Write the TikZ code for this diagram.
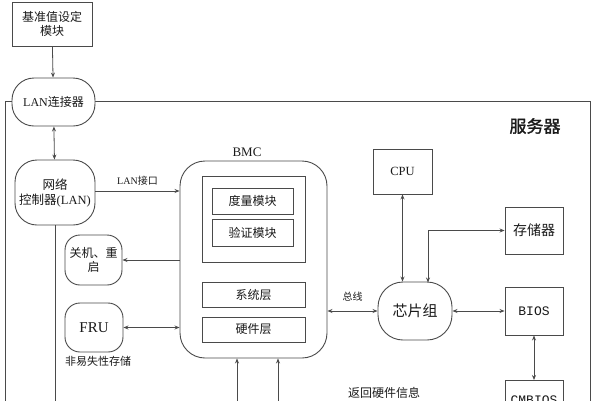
\documentclass[tikz,border=0pt]{standalone}
\usepackage{fontspec}
\setmainfont{Liberation Serif}
\newfontfamily\cjk{Noto Sans CJK SC}
\newfontfamily\cjkbf[FakeBold=1.6]{Noto Sans CJK SC}
\newfontfamily\mono{Liberation Mono}
\usepackage{tikz}
\usetikzlibrary{arrows.meta,positioning,calc}
\definecolor{line}{HTML}{4A4A4A}
\definecolor{ink}{HTML}{1A1A1A}

\begin{document}
\begin{tikzpicture}[
  x=1pt,y=-1pt,
  font=\fontsize{12}{14}\selectfont,
  text=ink,
  box/.style={draw=line,line width=0.9pt,fill=white,inner sep=1pt,align=center},
  pill/.style={box,rounded corners=18pt},
  layer/.style={draw=line,line width=0.9pt,fill=white,minimum width=103pt,minimum height=25pt,inner sep=1pt},
  wire/.style={draw=line,line width=0.8pt},
  >={Stealth[length=5pt,width=4pt]}
]
\useasboundingbox (0,0) rectangle (592,400);
\clip (0,0) rectangle (592,400);
% the server frame
\draw[line,line width=0.9pt] (5,101) rectangle (590,430);
\node[font=\fontsize{17}{17}\selectfont\cjkbf] (srv) at (535,126) {服务器};
% left column
\node[box,minimum width=80pt,minimum height=44pt] (base) at (52,24) {\cjk 基准值设定\\\cjk 模块};
\node[pill,minimum width=83pt,minimum height=48pt,rounded corners=22pt] (lan) at (53.5,102) {LAN{\cjk 连接器}};
\node[pill,minimum width=80pt,minimum height=65pt,rounded corners=22pt,font=\fontsize{12.5}{15}\selectfont] (nic) at (55,192.5) {{\cjk 网络}\\{\cjk 控制器}(LAN)};
\coordinate (nicend) at (53,410);
\node[pill,minimum width=57pt,minimum height=50pt,rounded corners=15pt] (off) at (93.5,260) {\cjk 关机、重\\\cjk 启};
\node[pill,minimum width=58pt,minimum height=49pt,rounded corners=15pt,font=\fontsize{15}{15}\selectfont] (fru) at (94,327.5) {FRU};
\node[font=\fontsize{11}{11}\selectfont\cjk] (nvm) at (98,361) {非易失性存储};
% the BMC
\node[draw=line,line width=0.9pt,rounded corners=25pt,minimum width=147pt,minimum height=197pt] (bmc) at (253.5,259.5) {};
\node[font=\fontsize{13}{13}\selectfont] (bmclbl) at (247,152) {BMC};
\node[layer,minimum height=86pt] (inner) at (253.5,219) {};
\node[layer,minimum width=81pt,minimum height=26pt] (meas) at (252.5,201) {\cjk 度量模块};
\node[layer,minimum width=81pt,minimum height=27pt] (verif) at (252.5,232.5) {\cjk 验证模块};
\node[layer] (sys) at (253.5,294.5) {\cjk 系统层};
\node[layer] (hw) at (253.5,329.5) {\cjk 硬件层};
\coordinate (hwa) at (237,410);
\coordinate (hwb) at (278,410);
% right column
\node[pill,minimum width=74pt,minimum height=58pt,rounded corners=25pt,font=\fontsize{15}{15}\selectfont\cjk] (chip) at (415,311) {芯片组};
\node[box,minimum width=59pt,minimum height=45pt,font=\fontsize{12.5}{13}\selectfont] (cpu) at (402.5,171.5) {CPU};
\node[box,minimum width=58pt,minimum height=47pt,font=\fontsize{14}{14}\selectfont\cjk] (mem) at (534,230.5) {存储器};
\node[box,minimum width=58pt,minimum height=48pt,font=\fontsize{13}{13}\selectfont\mono] (bios) at (534,311) {BIOS};
\node[box,minimum width=58pt,minimum height=48pt,font=\fontsize{13}{13}\selectfont\mono,text depth=0pt,anchor=north] (cmos) at (534,380) {\raisebox{8pt}{CMBIOS}};
\node[font=\fontsize{12}{12}\selectfont\cjk] (back) at (384,393) {返回硬件信息};
% connectors
\draw[wire,->] (base) -- (lan);
\draw[wire,<->] (lan) -- (nic);
\draw[wire] (nic) -- (nic |- nicend);
\draw[wire,->] (nic.east |- 0,191) -- (bmc.west |- 0,191)
  node[midway,above=2pt,font=\fontsize{10}{10}\selectfont] (lanport) {LAN{\cjk 接口}};
\draw[wire,->] (bmc.west |- off) -- (off);
\draw[wire,<->] (bmc.west |- fru) -- (fru);
\draw[wire,<->] (bmc.east |- chip) -- (chip)
  node[midway,above=6pt,font=\fontsize{10}{10}\selectfont\cjk] (bus) {总线};
\draw[wire,<->] (cpu) -- (cpu |- chip.north);
\draw[wire,<->] (428,282.5) |- (mem);
\draw[wire,<->] (chip) -- (bios);
\draw[wire,<->] (bios) -- (cmos);
\draw[wire,->] (hwa) -- (hwa |- bmc.south);
\draw[wire,->] (hwb) -- (hwb |- bmc.south);
\end{tikzpicture}
\end{document}
